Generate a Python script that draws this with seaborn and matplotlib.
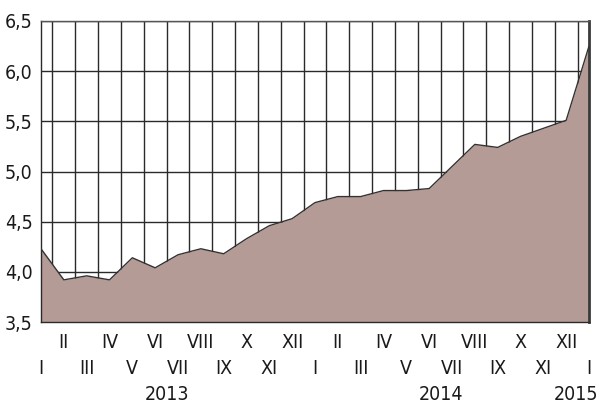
import matplotlib
matplotlib.use("Agg")
import matplotlib.pyplot as plt
import seaborn as sns
import pandas as pd
import numpy as np

months = ["I", "II", "III", "IV", "V", "VI", "VII", "VIII", "IX", "X", "XI", "XII",
          "I", "II", "III", "IV", "V", "VI", "VII", "VIII", "IX", "X", "XI", "XII", "I"]
values = [4.23, 3.92, 3.96, 3.92, 4.14, 4.04, 4.17, 4.23, 4.18, 4.33, 4.46, 4.53,
          4.69, 4.75, 4.75, 4.81, 4.81, 4.83, 5.05, 5.27, 5.24, 5.35, 5.43, 5.51, 6.25]
years = ["2013", "2014", "2015"]
year_pos = [5.5, 17.5, 24]
yticks = [3.5, 4.0, 4.5, 5.0, 5.5, 6.0, 6.5]
ytick_labels = ["3,5", "4,0", "4,5", "5,0", "5,5", "6,0", "6,5"]

df = pd.DataFrame({"idx": np.arange(len(values)), "value": values})

sns.set_theme(style="white")
plt.rcParams['font.family'] = ['DejaVu Sans']
plt.rcParams['font.stretch'] = 'condensed'

fig = plt.figure(figsize=(5.99, 4.07), dpi=100)
ax = fig.add_axes([41/599, 1-322/407, (589-41)/599, (322-21)/407])

ax.set_xlim(0, len(values)-1)
ax.set_ylim(3.5, 6.5)

# grid
for yv in yticks[1:]:
    ax.axhline(yv, color="#2a2a2a", lw=1.0, zorder=1)
for xv in np.arange(0.5, len(values)-1, 1.0):
    ax.axvline(xv, color="#2a2a2a", lw=1.0, zorder=1)

ax.fill_between(df["idx"], df["value"], 3.5, color="#b49b96", zorder=2, lw=0)
sns.lineplot(data=df, x="idx", y="value", ax=ax, color="#333333", lw=1.0, zorder=3)

fs = 14
ax.set_yticks(yticks)
ax.set_yticklabels(ytick_labels, fontsize=fs, color="#1a1a1a", fontstretch="condensed")
ax.set_xticks(range(len(values)))
ax.set_xticklabels([])
ax.tick_params(axis="both", length=0)
ax.tick_params(axis="y", pad=6)
ax.set_xlabel("")
ax.set_ylabel("")

for s in ["left", "bottom", "right", "top"]:
    ax.spines[s].set_visible(True)
    ax.spines[s].set_color("#2a2a2a")
    ax.spines[s].set_linewidth(1.0)
ax.spines["right"].set_linewidth(2.0)
ax.spines["right"].set_color("#3a3a3a")
ax.spines["top"].set_color("#555555")

trans = ax.get_xaxis_transform()
h = 301.0
for i, m in enumerate(months):
    yoff = -20/h if i % 2 == 1 else -46/h
    ax.text(i, yoff, m, transform=trans, ha="center", va="center", fontsize=fs,
            color="#1a1a1a", fontstretch="condensed")
for yr, xp in zip(years, year_pos):
    if yr == "2015":
        ax.text(24.4, -72/h, yr, transform=trans, ha="right", va="center", fontsize=fs,
                color="#1a1a1a", fontstretch="condensed")
    else:
        ax.text(xp, -72/h, yr, transform=trans, ha="center", va="center", fontsize=fs,
                color="#1a1a1a", fontstretch="condensed")

fig.savefig("out.png", dpi=100)
